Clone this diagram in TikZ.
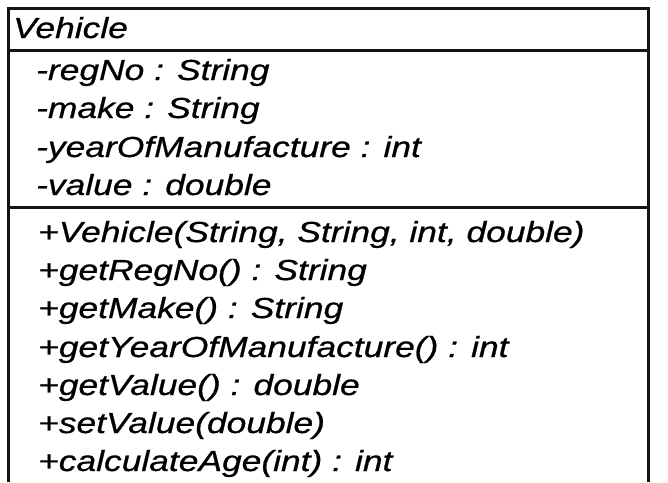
\documentclass[tikz,border=0pt]{standalone}
\usepackage{fontspec}
\setmainfont{Liberation Sans}
\newfontfamily\umlfont{Liberation Sans Italic}[FakeBold=0.6]
\newcommand{\uwide}[1]{\scalebox{1.22}[1]{#1}}
\tikzset{
  member/.style={anchor=base west, inner sep=0pt, font=\fontsize{29}{34}\umlfont},
  umlline/.style={line width=3pt, black!92}
}
\begin{document}
\begin{tikzpicture}[x=1pt, y=-1pt]
\useasboundingbox (0,0) rectangle (668,482);
% class frame: open at the bottom
\draw[umlline] (8,482) -- (8,8.5) -- (648,8.5) -- (648,482);
\draw[umlline] (8,50) -- (648,50);
\draw[umlline] (8,207) -- (648,207);
% name compartment
\node[member] (name) at (13,38) {\uwide{Vehicle}};
% attributes
\node[member] (a1) at (36,80) {\uwide{-regNo : String}};
\node[member] (a2) at (36,118) {\uwide{-make : String}};
\node[member] (a3) at (36,157) {\uwide{-yearOfManufacture : int}};
\node[member] (a4) at (36,195) {\uwide{-value : double}};
% operations
\node[member] (m1) at (38,242) {\uwide{+Vehicle(String, String, int, double)}};
\node[member] (m2) at (38,280) {\uwide{+getRegNo() : String}};
\node[member] (m3) at (38,318) {\uwide{+getMake() : String}};
\node[member] (m4) at (38,357) {\uwide{+getYearOfManufacture() : int}};
\node[member] (m5) at (38,395) {\uwide{+getValue() : double}};
\node[member] (m6) at (38,433) {\uwide{+setValue(double)}};
\node[member] (m7) at (38,471) {\uwide{+calculateAge(int) : int}};
\end{tikzpicture}
\end{document}
